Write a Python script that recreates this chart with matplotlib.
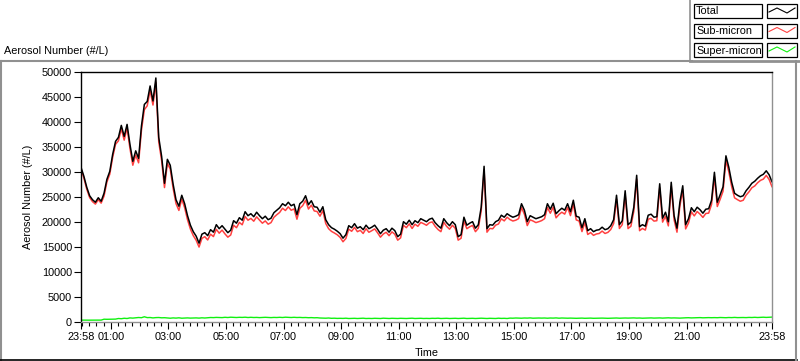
import numpy as np
import matplotlib
matplotlib.use('Agg')
import matplotlib.pyplot as plt
from matplotlib.patches import Rectangle
from matplotlib.lines import Line2D

plt.rcParams['font.family'] = ['Liberation Sans', 'DejaVu Sans']
plt.rcParams['font.size'] = 7.8

# horas desde las 23:58, una muestra cada 6 minutos
step_h = 0.1
total = [
    31000, 29200, 27000, 25300, 24500, 24000, 24900, 24200, 25800, 28600,
    30200, 33600, 36200, 37000, 39400, 37200, 39600, 35600, 32200, 34300,
    32800, 39300, 43600, 44200, 47300, 44300, 48900, 37000, 33200, 27800,
    32600, 31400, 27600, 24500, 23200, 25400, 23700, 21300, 19400, 18100,
    17200, 15800, 17600, 17900, 17300, 18500, 18000, 19500, 18700, 19300,
    18600, 17900, 18400, 20300, 19800, 20900, 20400, 22100, 21300, 21700,
    21100, 22000, 21300, 20700, 21200, 20500, 20800, 21900, 22400, 22900,
    23700, 23300, 24000, 23300, 23600, 21500, 23700, 24200, 25300, 23500,
    24300, 23100, 23000, 22000, 23100, 20500, 19500, 18900, 18600, 18200,
    17700, 16800, 17500, 19300, 18900, 19700, 18800, 19100, 18500, 19400,
    18700, 19000, 19400, 18600, 17700, 18400, 18700, 18000, 18800, 18300,
    17100, 17600, 20100, 19600, 20400, 19500, 20300, 19900, 20700, 20400,
    20100, 20600, 20800, 19900, 19300, 18800, 20700, 19900, 19300, 20100,
    19500, 17100, 17500, 21000, 19400, 19800, 20100, 18800, 19500, 23000,
    31200, 18700, 19500, 19400, 20100, 20400, 21400, 21000, 21700, 21300,
    21000, 21200, 21500, 23700, 22400, 20100, 21300, 21000, 20700, 20900,
    21100, 21500, 23700, 22600, 23800, 21700, 22300, 22800, 22400, 23700,
    22100, 24400, 21200, 21000, 18900, 20700, 18300, 18700, 18100, 18400,
    18500, 19000, 18500, 18700, 19300, 20500, 25400, 19500, 20300, 26300,
    19500, 20000, 23000, 29400, 19100, 19500, 19200, 21400, 21600, 21000,
    21100, 27700, 20800, 22000, 20100, 28000, 21300, 18800, 24000, 27300,
    19500, 20700, 22900, 22100, 23000, 22500, 21800, 22600, 22700, 24400,
    30000, 24000, 25500, 27100, 33300, 31000, 28000, 25800, 25400, 25100,
    25300, 26300, 27000, 27800, 28200, 28800, 29300, 29600, 30300, 29500,
    28100,
]
super_micron = [
    380, 370, 380, 370, 380, 370, 380, 380, 560, 540,
    560, 600, 580, 700, 660, 750, 700, 820, 780, 850,
    900, 860, 1050, 880, 900, 820, 880, 900, 840, 860,
    800, 760, 820, 780, 840, 760, 800, 820, 780, 800,
    820, 780, 840, 800, 860, 900, 880, 920, 900, 880,
    940, 900, 960, 920, 900, 940, 920, 960, 900, 940,
    900, 920, 880, 900, 940, 900, 880, 920, 900, 940,
    900, 960, 920, 900, 940, 900, 920, 880, 900, 860,
    880, 840, 860, 800, 780, 760, 800, 740, 760, 720,
    740, 720, 760, 700, 720, 740, 700, 720, 760, 700,
    720, 700, 740, 720, 700, 760, 720, 700, 740, 720,
    700, 740, 720, 700, 720, 760, 700, 720, 740, 700,
    720, 700, 740, 720, 760, 700, 720, 740, 700, 720,
    740, 700, 720, 760, 700, 720, 740, 700, 720, 760,
    720, 700, 740, 720, 700, 760, 720, 740, 700, 780,
    760, 800, 780, 760, 800, 780, 820, 760, 780, 800,
    780, 800, 760, 800, 780, 820, 760, 800, 780, 760,
    780, 760, 740, 760, 780, 740, 760, 780, 740, 760,
    760, 780, 760, 740, 760, 780, 800, 760, 780, 800,
    780, 800, 820, 780, 800, 760, 780, 800, 820, 780,
    800, 820, 780, 800, 840, 800, 820, 800, 780, 820,
    840, 860, 820, 840, 860, 880, 840, 860, 880, 860,
    880, 860, 900, 880, 860, 900, 880, 920, 880, 900,
    900, 880, 920, 900, 940, 900, 920, 960, 920, 940,
    980,
]
tick_hours = [1, 3, 5, 7, 9, 11, 13, 15, 17, 19, 21]
series_names = ['Total', 'Sub-micron', 'Super-micron']
series_colors = ['black', '#ff4040', '#10f010']

total = np.array(total, dtype=float)
super_micron = np.array(super_micron, dtype=float)
sub_micron = total - super_micron
t = np.arange(len(total)) * step_h
off = 2 / 60  # el eje empieza a las 23:58

W, H = 800, 361
def px(x, y):
    return x / W, 1 - y / H

fig = plt.figure(figsize=(8, 3.61), dpi=100)
ax = fig.add_axes([81 / W, 1 - 322 / H, 691 / W, 250.5 / H])

ax.plot(t, sub_micron, color=series_colors[1], lw=1.1)
ax.plot(t, total, color=series_colors[0], lw=1.1)
ax.plot(t, super_micron, color=series_colors[2], lw=1.0)

ax.set_xlim(0, 24)
ax.set_ylim(0, 50200)
ax.set_yticks(np.arange(0, 50001, 5000))
ax.tick_params(axis='y', length=5, pad=1.5, width=0.8)

major = [0] + [h + off for h in tick_hours] + [24]
labels = ['23:58'] + ['%02d:00' % h for h in tick_hours] + ['23:58']
ax.set_xticks(major)
ax.set_xticklabels(labels)
minor = [q * 0.25 + off for q in range(96) if 0 < q * 0.25 + off < 24]
ax.set_xticks(minor, minor=True)
ax.tick_params(axis='x', which='major', length=5, pad=2.5, width=0.8)
ax.tick_params(axis='x', which='minor', length=3, width=0.8)

for s in ['left', 'top']:
    ax.spines[s].set_color('black')
for s in ['right', 'bottom']:
    ax.spines[s].set_color('#909090')
for s in ax.spines.values():
    s.set_linewidth(1.0)

ax.set_ylabel('Aerosol Number (#/L)')
ax.yaxis.set_label_coords(-0.069, 0.5)
ax.set_xlabel('Time')
ax.xaxis.set_label_coords(0.5, -0.105)

# marco exterior estilo LabVIEW
fig.add_artist(Line2D([px(0.5, 0)[0]] * 2, [px(0, 61)[1], px(0, 360)[1]], color='#909090', lw=1.5))
fig.add_artist(Line2D([px(0, 0)[0], px(692, 0)[0]], [px(0, 61)[1]] * 2, color='#909090', lw=1.5))
fig.add_artist(Line2D([px(0, 0)[0], px(797, 0)[0]], [px(0, 359.5)[1]] * 2, color='black', lw=1.2))
fig.add_artist(Line2D([px(796, 0)[0]] * 2, [px(0, 61)[1], px(0, 360)[1]], color='#909090', lw=1.5))
fig.add_artist(Line2D([px(690, 0)[0]] * 2, [px(0, 0)[1], px(0, 61)[1]], color='#909090', lw=1.2))
fig.add_artist(Line2D([px(690, 0)[0], px(800, 0)[0]], [px(0, 61)[1]] * 2, color='#909090', lw=2))

fig.text(*px(4, 51), 'Aerosol Number (#/L)', va='center', ha='left')

# leyenda
for i, (name, col) in enumerate(zip(series_names, series_colors)):
    top = 4 + i * 19.5
    x0, y0 = px(694, top + 14)
    fig.add_artist(Rectangle((x0, y0), 68 / W, 14 / H, fill=False, ec='black', lw=0.9,
                             transform=fig.transFigure))
    x1, y1 = px(767, top + 14)
    fig.add_artist(Rectangle((x1, y1), 30 / W, 14 / H, fill=False, ec='black', lw=0.9,
                             transform=fig.transFigure))
    fig.text(*px(696, top + 7.5), name, va='center', ha='left')
    mid = top + 7
    zx = [769, 777, 787, 795]
    zy = [mid + 1, mid - 3, mid + 2, mid - 3]
    fig.add_artist(Line2D([x / W for x in zx], [1 - y / H for y in zy], color=col, lw=0.8))

plt.savefig('out.png', dpi=100, facecolor='white')
